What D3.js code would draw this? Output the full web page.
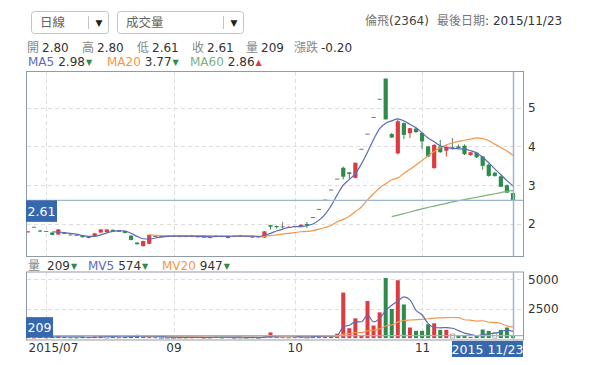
<!DOCTYPE html>
<html lang="zh-Hant">
<head>
<meta charset="UTF-8">
<title>倫飛(2364) 日線</title>
<script src="https://cdn.jsdelivr.net/npm/d3@7/dist/d3.min.js"></script>
<style>
  body { margin: 0; background: #fff; }
  svg { display: block; font-family: "DejaVu Sans", "Noto Sans CJK TC", sans-serif; }
</style>
</head>
<body>
<svg width="600" height="365"></svg>
<script>
// daily candles, oldest first (last one = 2015/11/23)
const openP = [1.79,1.93,1.83,1.82,1.78,1.73,1.77,1.73,1.72,1.70, 1.64,1.69,1.78,1.79,1.85,1.82,1.82,1.70,1.52,1.43,
  1.49,1.69,1.69,1.70,1.69,1.67,1.69,1.68,1.69,1.67, 1.64,1.67,1.69,1.64,1.69,1.71,1.69,1.65,1.66,1.65,
  1.97,1.95,1.94,1.91,1.95,1.92,2.00,2.18,2.39,2.63, 2.89,3.17,3.45,3.33,3.19,3.94,4.33,4.76,5.23,5.75,
  4.32,3.82,4.60,4.34,4.46,4.35,4.00,3.44,4.00,3.89, 3.99,4.00,4.02,3.78,3.84,3.74,3.53,3.32,3.23,3.00, 2.80];
const highP = [1.82,1.93,1.85,1.82,1.79,1.87,1.79,1.74,1.73,1.71, 1.68,1.77,1.87,1.87,1.86,1.83,1.83,1.71,1.53,1.57,
  1.73,1.72,1.71,1.71,1.70,1.70,1.70,1.72,1.70,1.68, 1.68,1.71,1.70,1.70,1.70,1.72,1.70,1.69,1.69,1.82,
  1.98,1.96,2.05,1.94,1.96,1.99,2.05,2.18,2.39,2.63, 2.89,3.17,3.48,3.34,3.58,3.94,4.33,4.76,5.23,5.75,
  4.35,4.70,4.62,4.48,4.48,4.36,4.02,4.06,4.17,4.02, 4.22,4.05,4.05,3.86,3.86,3.75,3.55,3.35,3.25,3.02, 2.80];
const lowP = [1.78,1.93,1.80,1.82,1.71,1.72,1.74,1.72,1.71,1.65, 1.63,1.68,1.77,1.78,1.80,1.81,1.76,1.58,1.47,1.42,
  1.48,1.67,1.67,1.68,1.68,1.66,1.67,1.67,1.65,1.66, 1.63,1.66,1.67,1.63,1.68,1.68,1.68,1.64,1.65,1.64,
  1.86,1.88,1.89,1.90,1.93,1.91,1.90,2.18,2.39,2.63, 2.89,3.17,3.15,3.16,3.18,3.94,4.33,4.76,5.23,4.69,
  4.22,3.80,4.19,4.22,4.35,3.93,3.72,3.43,3.84,3.74, 3.91,3.95,3.78,3.76,3.70,3.40,3.22,3.22,2.95,2.80, 2.61];
const closeP = [1.81,1.93,1.81,1.82,1.72,1.86,1.75,1.73,1.72,1.66, 1.67,1.76,1.86,1.86,1.81,1.82,1.77,1.59,1.48,1.56,
  1.72,1.69,1.69,1.69,1.69,1.69,1.68,1.69,1.66,1.67, 1.67,1.70,1.68,1.69,1.69,1.69,1.69,1.68,1.68,1.81,
  1.93,1.92,1.94,1.93,1.95,1.98,1.98,2.18,2.39,2.63, 2.89,3.17,3.22,3.29,3.58,3.94,4.33,4.76,5.23,4.70,
  4.23,4.65,4.30,4.47,4.37,4.13,3.74,4.04,3.85,3.99, 3.99,3.96,3.80,3.85,3.72,3.50,3.24,3.24,2.96,2.81, 2.61];
const volume = [90,60,150,70,120,160,90,70,60,110, 80,130,150,130,90,70,100,260,280,120,
  140,80,60,70,50,80,60,70,90,50, 80,100,60,90,50,80,60,70,60,130,
  480,230,90,70,80,110,120,230,230,230, 130,370,3870,840,1680,200,3150,1070,2190,5110,
  2475,4920,2860,900,620,620,1180,1260,700,700, 340,200,200,100,220,730,610,450,700,900, 209];

// moving average lines
const ma5 = [null,null,null,null,1.80,1.79,1.78,1.76,1.74,1.70, 1.68,1.68,1.72,1.77,1.81,1.83,1.82,1.76,1.68,1.62,
  1.61,1.64,1.66,1.68,1.69,1.69,1.69,1.69,1.68,1.68, 1.67,1.68,1.68,1.68,1.69,1.69,1.69,1.69,1.68,1.71,
  1.76,1.82,1.87,1.91,1.93,1.94,1.96,2.00,2.10,2.25, 2.47,2.75,3.00,3.15,3.30,3.55,3.85,4.18,4.46,4.60,
  4.66,4.71,4.66,4.57,4.48,4.35,4.22,4.12,4.02,3.97, 3.95,3.94,3.93,3.89,3.83,3.72,3.58,3.42,3.27,3.12, 2.98];
const ma20 = [null,null,null,null,null,null,null,null,null,null, null,null,null,null,null,null,null,null,null,null,
  1.72,1.71,1.70,1.70,1.70,1.70,1.70,1.70,1.70,1.70, 1.70,1.69,1.69,1.69,1.69,1.69,1.69,1.69,1.67,1.68,
  1.70,1.72,1.74,1.76,1.78,1.80,1.81,1.83,1.87,1.91, 1.96,2.06,2.12,2.20,2.32,2.44,2.62,2.78,2.93,3.04,
  3.14,3.19,3.30,3.41,3.52,3.64,3.76,3.87,3.97,4.04, 4.09,4.13,4.16,4.19,4.22,4.20,4.15,4.06,3.97,3.88, 3.77];
const ma60 = [...Array(60).fill(null),
  2.19,2.23,2.27,2.31,2.35,2.39,2.43,2.46,2.50,2.53, 2.57,2.60,2.63,2.66,2.69,2.72,2.75,2.78,2.81,2.84, 2.86];
const mv5 = [null,null,null,null,100,110,115,110,100,100, 85,95,105,120,120,115,110,130,160,165,
  180,175,135,95,80,70,65,65,70,70, 70,75,75,75,75,75,70,70,65,80,
  160,195,200,200,190,115,95,122,154,184, 188,238,966,1088,1378,1392,1948,1388,1658,2344,
  2799,3153,3511,3253,2355,1984,1236,920,876,892, 836,640,428,308,212,290,372,422,542,678, 574];
const mv20 = [...Array(19).fill(null), 125,
  128,125,120,115,110,108,105,100,98,95, 92,90,88,86,82,80,78,76,74,74,
  92,100,100,100,101,104,108,117,126,135, 139,155,345,385,465,470,620,670,780,1030,
  1124,1358,1497,1538,1565,1591,1644,1695,1719,1742, 1753,1744,1561,1524,1451,1477,1350,1319,1245,1034, 947];

const monthTickIdx = [3, 24, 44, 65];
const monthTickLabels = ["2015/07", "09", "10", "11"];
const priceTicks = [2, 3, 4, 5];
const volTicks = [2500, 5000];

const RED = "#dd3b3f", GREEN = "#2e8b4b", GRAYC = "#777";
const C_MA5 = "#5b6cb6", C_MA20 = "#f2974a", C_MA60 = "#7fb07f";
const HILITE = "#3568ad", CROSS = "#9db6cc";

const svg = d3.select("svg");
const n = closeP.length;
const last = n - 1;
const panelL = 27, panelR = 523;
const mainTop = 72, mainBot = 256;
const volTop = 272.5, volBot = 339.5;

const x = d3.scalePoint().domain(d3.range(n)).range([28, 513]);
const yP = d3.scaleLinear().domain([1.175, 5.92]).range([mainBot, mainTop]);
const yV = d3.scaleLinear().domain([0, 5578]).range([338.1, volTop]);

const defs = svg.append("defs");
defs.append("clipPath").attr("id", "clipMain").append("rect")
  .attr("x", panelL).attr("y", mainTop).attr("width", panelR - panelL).attr("height", mainBot - mainTop);
defs.append("clipPath").attr("id", "clipVol").append("rect")
  .attr("x", panelL).attr("y", volTop).attr("width", panelR - panelL).attr("height", volBot - volTop);

// ---- top header ----
function dropdown(x0, w, div, label) {
  const g = svg.append("g");
  g.append("rect").attr("x", x0 + 0.5).attr("y", 11.5).attr("width", w).attr("height", 22)
    .attr("rx", 3).attr("fill", "#fff").attr("stroke", "#c4c4c4");
  g.append("line").attr("x1", div + 0.5).attr("x2", div + 0.5).attr("y1", 16).attr("y2", 29).attr("stroke", "#c4c4c4");
  g.append("text").attr("x", x0 + 9).attr("y", 27).attr("font-size", 12.5).attr("fill", "#666").text(label);
  g.append("text").attr("x", (div + x0 + w) / 2 + 1).attr("y", 26).attr("text-anchor", "middle")
    .attr("font-size", 9).attr("fill", "#222").text("▼");
}
dropdown(31, 77, 88, "日線");
dropdown(117, 126, 223, "成交量");

function put(xp, yp, txt, fill, size) {
  return svg.append("text").attr("x", xp).attr("y", yp).attr("font-size", size || 12)
    .attr("fill", fill).text(txt);
}
// writes pieces one after another, returns the end x
function run(xp, yp, pieces) {
  pieces.forEach(p => {
    const t = put(xp, yp, p[0], p[1]);
    xp += t.node().getComputedTextLength() + (p[2] || 0);
  });
  return xp;
}
run(365, 25, [["倫飛", "#777"], ["(2364)", "#444", 8], ["最後日期", "#777"], [":", "#444", 4], ["2015/11/23", "#333"]]);

// OHLC line
const ohlc = [["開", 27, "2.80"], ["高", 82, "2.80"], ["低", 137, "2.61"], ["收", 192, "2.61"], ["量", 246, "209"]];
ohlc.forEach(d => { put(d[1], 52, d[0], "#888"); put(d[1] + 15, 52, d[2], "#333"); });
put(294, 52, "漲跌", "#888");
put(321, 52, "-0.20", "#333");

// MA legend
function legendItem(xp, yp, name, col, val, up) {
  const t = put(xp, yp, name, col);
  const w = t.node().getComputedTextLength();
  const v = put(xp + w + 4, yp, val, "#333");
  const w2 = v.node().getComputedTextLength();
  put(xp + w + 5 + w2, yp - 1, up ? "▲" : "▼", up ? RED : GREEN, 8);
}
legendItem(28, 66, "MA5", C_MA5, "2.98", false);
legendItem(107, 66, "MA20", C_MA20, "3.77", false);
legendItem(190, 66, "MA60", C_MA60, "2.86", true);

// volume legend
put(28, 270, "量", "#888");
legendItem(43, 270, "", "#333", "209", false);
legendItem(88, 270, "MV5", C_MA5, "574", false);
legendItem(162, 270, "MV20", C_MA20, "947", false);

// ---- grids ----
const grid = svg.append("g").attr("stroke", "#dedede").attr("stroke-dasharray", "4,3");
grid.selectAll(".hp").data(priceTicks).join("line")
  .attr("x1", panelL).attr("x2", panelR).attr("y1", d => Math.round(yP(d)) + 0.5).attr("y2", d => Math.round(yP(d)) + 0.5);
grid.selectAll(".hv").data(volTicks).join("line").attr("class", "hv")
  .attr("x1", panelL).attr("x2", panelR).attr("y1", d => Math.round(yV(d)) + 0.5).attr("y2", d => Math.round(yV(d)) + 0.5);
monthTickIdx.forEach(i => {
  const xx = Math.round(x(i)) + 0.5;
  grid.append("line").attr("x1", xx).attr("x2", xx).attr("y1", mainTop).attr("y2", mainBot);
  grid.append("line").attr("x1", xx).attr("x2", xx).attr("y1", volTop).attr("y2", volBot);
});

// ---- price panel ----
const main = svg.append("g").attr("clip-path", "url(#clipMain)");
const bw = 4.2;
const candleColor = i => closeP[i] > openP[i] ? RED : closeP[i] < openP[i] ? GREEN : GRAYC;
const idx = d3.range(n);
main.selectAll(".wick").data(idx).join("line")
  .attr("x1", i => x(i)).attr("x2", i => x(i))
  .attr("y1", i => yP(highP[i])).attr("y2", i => yP(lowP[i]))
  .attr("stroke", candleColor).attr("stroke-width", 1);
main.selectAll(".body").data(idx).join("rect")
  .attr("x", i => x(i) - bw / 2).attr("width", bw)
  .attr("y", i => yP(Math.max(openP[i], closeP[i])))
  .attr("height", i => Math.max(1, yP(Math.min(openP[i], closeP[i])) - yP(Math.max(openP[i], closeP[i]))))
  .attr("fill", candleColor);

function drawLine(g, arr, y, col) {
  const line = d3.line().defined(d => d != null).x((d, i) => x(i)).y(d => y(d)).curve(d3.curveMonotoneX);
  g.append("path").datum(arr).attr("d", line).attr("fill", "none").attr("stroke", col).attr("stroke-width", 1.2);
}
drawLine(main, ma60, yP, C_MA60);
drawLine(main, ma20, yP, C_MA20);
drawLine(main, ma5, yP, C_MA5);

// ---- volume panel ----
const vol = svg.append("g").attr("clip-path", "url(#clipVol)");
const volColor = i => {
  const ref = i === 0 ? openP[0] : closeP[i - 1];
  return closeP[i] > ref ? RED : closeP[i] < ref ? GREEN : null;
};
vol.selectAll(".vbar").data(idx).join("rect")
  .attr("x", i => x(i) - 2).attr("width", 4)
  .attr("y", i => yV(volume[i]))
  .attr("height", i => Math.max(1, yV(0) - yV(volume[i])))
  .attr("fill", i => volColor(i) || "#fff")
  .attr("stroke", i => volColor(i) ? "none" : "#999")
  .attr("stroke-width", 0.8);
drawLine(vol, mv20, yV, C_MA20);
drawLine(vol, mv5, yV, C_MA5);

// ---- crosshair on last bar ----
const cx = Math.round(x(last)) + 0.5;
svg.append("line").attr("x1", panelL).attr("x2", panelR)
  .attr("y1", yP(closeP[last])).attr("y2", yP(closeP[last])).attr("stroke", CROSS).attr("stroke-width", 1.2);
svg.append("line").attr("x1", panelL).attr("x2", panelR)
  .attr("y1", yV(volume[last])).attr("y2", yV(volume[last])).attr("stroke", CROSS).attr("stroke-width", 1.2);
[[mainTop, mainBot], [volTop, volBot]].forEach(r => {
  svg.append("line").attr("x1", cx).attr("x2", cx).attr("y1", r[0]).attr("y2", r[1])
    .attr("stroke", CROSS).attr("stroke-width", 1.5);
});

// ---- panel borders ----
[[mainTop, mainBot], [volTop, volBot]].forEach(r => {
  svg.append("rect").attr("x", panelL - 0.5).attr("y", r[0] - 0.5)
    .attr("width", panelR - panelL + 1).attr("height", r[1] - r[0] + 1)
    .attr("fill", "none").attr("stroke", "#8f9ba7");
});

// ---- axes ----
function styleAxis(g) {
  g.select(".domain").remove();
  g.selectAll("text").attr("font-size", 12).attr("fill", "#333")
    .attr("font-family", "DejaVu Sans, sans-serif");
}
svg.append("g").attr("transform", `translate(${panelR},0)`)
  .call(d3.axisRight(yP).tickValues(priceTicks).tickSize(0).tickPadding(5).tickFormat(d3.format("d")))
  .call(styleAxis);
svg.append("g").attr("transform", `translate(${panelR},0)`)
  .call(d3.axisRight(yV).tickValues(volTicks).tickSize(0).tickPadding(5).tickFormat(d3.format("d")))
  .call(styleAxis);
const xAxis = svg.append("g").attr("transform", `translate(0,${volBot})`)
  .call(d3.axisBottom(x).tickValues(monthTickIdx).tickSize(0).tickPadding(4)
    .tickFormat(d => monthTickLabels[monthTickIdx.indexOf(d)]))
  .call(styleAxis);
xAxis.select(".tick text").attr("text-anchor", "start").attr("x", 28 - x(monthTickIdx[0]));

// ---- last-value tags ----
function tag(x0, y0, w, h, txt) {
  svg.append("rect").attr("x", x0).attr("y", y0).attr("width", w).attr("height", h).attr("fill", HILITE);
  svg.append("text").attr("x", x0 + w / 2).attr("y", y0 + h / 2).attr("dy", "0.36em")
    .attr("text-anchor", "middle").attr("font-size", 12.5).attr("fill", "#fff").text(txt);
}
tag(26, yP(closeP[last]), 31, 21.5, d3.format(".2f")(closeP[last]));
tag(26, yV(volume[last]) - 18.5, 27, 20.5, String(volume[last]));
tag(452, 341, 71, 16, "2015 11/23");
</script>
</body>
</html>
